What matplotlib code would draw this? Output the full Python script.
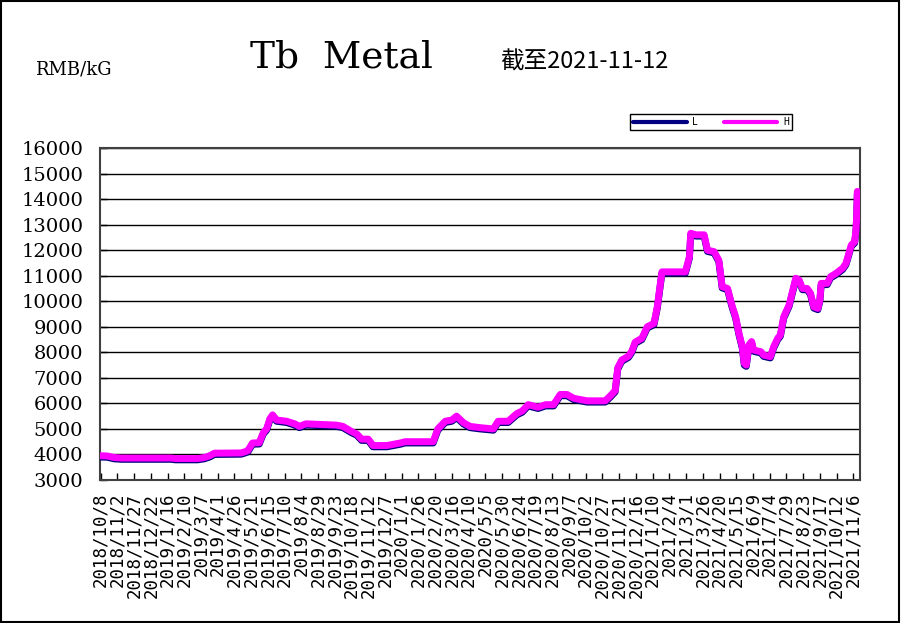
import matplotlib
matplotlib.use("Agg")
import matplotlib.pyplot as plt
import matplotlib.patches as mpatches
import pandas as pd
import numpy as np

start_date = "2018-10-08"

# days since start_date for each observation
day_offset = [0, 10, 20, 31, 60, 105, 112, 145, 155, 163, 170, 210, 215, 220, 227, 237,
              243, 248, 253, 257, 263, 278, 290, 297, 307, 352, 362, 375, 383, 390, 400,
              407, 428, 438, 448, 455, 497, 504, 515, 525, 532, 542, 552, 567, 587, 594,
              609, 622, 630, 639, 654, 665, 677, 687, 697, 707, 717, 727, 754, 762, 769,
              773, 779, 789, 794, 799, 809, 817, 827, 832, 836, 839, 874, 880, 882, 890,
              902, 907, 917, 924, 929, 937, 944, 949, 954, 959, 962, 965, 969, 973, 976,
              987, 991, 1001, 1006, 1012, 1016, 1021, 1029, 1034, 1039, 1044, 1049, 1056,
              1061, 1066, 1072, 1075, 1077, 1086, 1091, 1099, 1109, 1114, 1122, 1127, 1129,
              1130, 1131]

price_H = [3950, 3940, 3880, 3860, 3860, 3860, 3840, 3840, 3880, 3950, 4050, 4060, 4100,
           4150, 4450, 4460, 4850, 5000, 5400, 5550, 5350, 5300, 5200, 5100, 5200, 5150,
           5100, 4900, 4800, 4600, 4600, 4350, 4350, 4400, 4450, 4500, 4500, 5000, 5300,
           5350, 5500, 5250, 5100, 5050, 5000, 5300, 5300, 5600, 5700, 5950, 5850, 5950,
           5950, 6350, 6350, 6200, 6150, 6100, 6100, 6300, 6500, 7400, 7700, 7850, 8050,
           8400, 8550, 9000, 9130, 9780, 10570, 11150, 11150, 11740, 12660, 12600, 12600,
           12000, 11940, 11600, 10570, 10500, 9800, 9400, 8750, 8220, 7570, 7500, 8290,
           8420, 8090, 8020, 7890, 7830, 8220, 8550, 8680, 9390, 9850, 10370, 10900, 10830,
           10500, 10500, 10310, 9780, 9720, 10050, 10700, 10700, 10960, 11090, 11290,
           11480, 12200, 12330, 12790, 13300, 14300]

price_L = [3900, 3890, 3830, 3810, 3810, 3810, 3790, 3790, 3830, 3900, 4000, 4010, 4050,
           4100, 4400, 4410, 4800, 4950, 5350, 5500, 5300, 5250, 5150, 5050, 5150, 5100,
           5050, 4850, 4750, 4550, 4550, 4300, 4300, 4350, 4400, 4450, 4450, 4950, 5250,
           5300, 5450, 5200, 5050, 5000, 4950, 5250, 5250, 5550, 5650, 5900, 5800, 5900,
           5900, 6300, 6300, 6150, 6100, 6050, 6050, 6250, 6450, 7350, 7650, 7800, 8000,
           8350, 8500, 8950, 9080, 9730, 10520, 11100, 11100, 11690, 12600, 12550, 12550,
           11950, 11890, 11550, 10520, 10450, 9750, 9350, 8700, 8170, 7500, 7450, 8240,
           8370, 8040, 7970, 7840, 7780, 8170, 8500, 8630, 9340, 9800, 10320, 10850, 10780,
           10450, 10450, 10260, 9730, 9670, 10000, 10650, 10650, 10910, 11040, 11240,
           11430, 12150, 12280, 12740, 13250, 14200]

tick_labels = ["2018/10/8", "2018/11/2", "2018/11/27", "2018/12/22", "2019/1/16",
               "2019/2/10", "2019/3/7", "2019/4/1", "2019/4/26", "2019/5/21", "2019/6/15",
               "2019/7/10", "2019/8/4", "2019/8/29", "2019/9/23", "2019/10/18",
               "2019/11/12", "2019/12/7", "2020/1/1", "2020/1/26", "2020/2/20",
               "2020/3/16", "2020/4/10", "2020/5/5", "2020/5/30", "2020/6/24",
               "2020/7/19", "2020/8/13", "2020/9/7", "2020/10/2", "2020/10/27",
               "2020/11/21", "2020/12/16", "2021/1/10", "2021/2/4", "2021/3/1",
               "2021/3/26", "2021/4/20", "2021/5/15", "2021/6/9", "2021/7/4",
               "2021/7/29", "2021/8/23", "2021/9/17", "2021/10/12", "2021/11/6"]

y_ticks = [3000, 4000, 5000, 6000, 7000, 8000, 9000, 10000, 11000, 12000, 13000, 14000,
           15000, 16000]

t0 = pd.Timestamp(start_date)
dates = [t0 + pd.Timedelta(days=d) for d in day_offset]
tick_dates = [pd.to_datetime(s, format="%Y/%m/%d") for s in tick_labels]

W, H = 901, 623
fig = plt.figure(figsize=(W / 100, H / 100), dpi=100)
fig.patch.set_facecolor("white")

ax = fig.add_axes([100 / W, 1 - 480 / H, 760 / W, 332 / H])
ax.plot(dates, price_L, color="#000080", lw=5, solid_joinstyle="round",
        solid_capstyle="round", label="L", zorder=3)
ax.plot(dates, price_H, color="#FF00FF", lw=5, solid_joinstyle="round",
        solid_capstyle="round", label="H", zorder=4)

ax.set_ylim(3000, 16000)
ax.set_yticks(y_ticks)
ax.set_yticklabels([str(v) for v in y_ticks], fontfamily="DejaVu Serif", fontsize=14)
ax.set_xlim(t0 - pd.Timedelta(days=1), t0 + pd.Timedelta(days=1135))
ax.set_xticks(tick_dates)
ax.set_xticklabels(tick_labels, rotation=90, fontfamily="DejaVu Sans Mono", fontsize=12.5,
                   va="top", ha="center")
ax.tick_params(axis="x", direction="in", length=5, width=1, pad=9, colors="black")
ax.tick_params(axis="y", direction="in", length=5, width=1, pad=12, colors="black")
ax.grid(axis="y", color="black", lw=1)
ax.set_axisbelow(True)
for s in ax.spines.values():
    s.set_color("#404040")
    s.set_linewidth(1.5)

fig.text(35 / W, 1 - 70 / H, "RMB/kG", fontfamily="DejaVu Serif", fontsize=13,
         va="center", ha="left")
fig.text(250 / W, 1 - 57 / H, "Tb  Metal", fontfamily="DejaVu Serif", fontsize=27,
         va="center", ha="left")
fig.text(500 / W, 1 - 62 / H, "截至2021-11-12",
         fontfamily=["Noto Sans CJK SC", "DejaVu Sans"], fontsize=17,
         va="center", ha="left")

leg = fig.legend(loc="center", bbox_to_anchor=(711 / W, 1 - 122 / H), ncol=2,
                 prop={"family": "DejaVu Sans Mono", "size": 7},
                 handlelength=5.5, columnspacing=2.6, handletextpad=0.6,
                 borderpad=0.3, fancybox=False, framealpha=1, edgecolor="black")
leg.get_frame().set_linewidth(1)
for line in leg.get_lines():
    line.set_linewidth(3)

fig.patches.append(mpatches.Rectangle((0.001, 0.001), 0.997, 0.997,
                                      transform=fig.transFigure, fill=False,
                                      edgecolor="black", lw=1.5))

fig.savefig("out.png", dpi=100)
